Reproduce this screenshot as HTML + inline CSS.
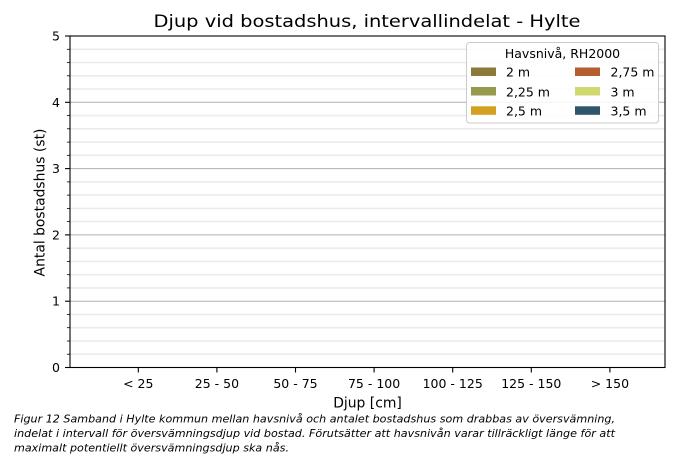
<!DOCTYPE html>
<html><head><meta charset="utf-8"><style>
html,body{margin:0;padding:0;background:#fff;}
svg{display:block;}
text{font-family:"DejaVu Sans","Liberation Sans",sans-serif;fill:#000;}
</style></head><body>
<svg width="700" height="459" viewBox="0 0 700 459" xmlns="http://www.w3.org/2000/svg">
<rect width="700" height="459" fill="#fff"/>
<!-- minor grid -->
<g stroke="#ebebeb" stroke-width="1.6">
<line x1="70" x2="665" y1="49.3" y2="49.3"/><line x1="70" x2="665" y1="62.5" y2="62.5"/><line x1="70" x2="665" y1="75.8" y2="75.8"/><line x1="70" x2="665" y1="89.0" y2="89.0"/>
<line x1="70" x2="665" y1="115.6" y2="115.6"/><line x1="70" x2="665" y1="128.8" y2="128.8"/><line x1="70" x2="665" y1="142.1" y2="142.1"/><line x1="70" x2="665" y1="155.3" y2="155.3"/>
<line x1="70" x2="665" y1="181.9" y2="181.9"/><line x1="70" x2="665" y1="195.1" y2="195.1"/><line x1="70" x2="665" y1="208.4" y2="208.4"/><line x1="70" x2="665" y1="221.6" y2="221.6"/>
<line x1="70" x2="665" y1="248.2" y2="248.2"/><line x1="70" x2="665" y1="261.4" y2="261.4"/><line x1="70" x2="665" y1="274.7" y2="274.7"/><line x1="70" x2="665" y1="287.9" y2="287.9"/>
<line x1="70" x2="665" y1="314.5" y2="314.5"/><line x1="70" x2="665" y1="327.7" y2="327.7"/><line x1="70" x2="665" y1="341.0" y2="341.0"/><line x1="70" x2="665" y1="354.2" y2="354.2"/>
</g>
<!-- major grid -->
<g stroke="#b0b0b0" stroke-width="1">
<line x1="70" x2="665" y1="102.3" y2="102.3"/><line x1="70" x2="665" y1="168.6" y2="168.6"/><line x1="70" x2="665" y1="234.9" y2="234.9"/><line x1="70" x2="665" y1="301.2" y2="301.2"/>
</g>
<!-- spines -->
<rect x="70" y="36" width="595" height="331.5" fill="none" stroke="#000" stroke-width="1.1"/>
<!-- y ticks -->
<g stroke="#000" stroke-width="1.1">
<line x1="65" x2="70" y1="367.5" y2="367.5"/><line x1="65" x2="70" y1="301.2" y2="301.2"/><line x1="65" x2="70" y1="234.9" y2="234.9"/><line x1="65" x2="70" y1="168.6" y2="168.6"/><line x1="65" x2="70" y1="102.3" y2="102.3"/><line x1="65" x2="70" y1="36" y2="36"/>
</g>
<g stroke="#000" stroke-width="0.8">
<line x1="67" x2="70" y1="49.3" y2="49.3"/><line x1="67" x2="70" y1="62.5" y2="62.5"/><line x1="67" x2="70" y1="75.8" y2="75.8"/><line x1="67" x2="70" y1="89.0" y2="89.0"/>
<line x1="67" x2="70" y1="115.6" y2="115.6"/><line x1="67" x2="70" y1="128.8" y2="128.8"/><line x1="67" x2="70" y1="142.1" y2="142.1"/><line x1="67" x2="70" y1="155.3" y2="155.3"/>
<line x1="67" x2="70" y1="181.9" y2="181.9"/><line x1="67" x2="70" y1="195.1" y2="195.1"/><line x1="67" x2="70" y1="208.4" y2="208.4"/><line x1="67" x2="70" y1="221.6" y2="221.6"/>
<line x1="67" x2="70" y1="248.2" y2="248.2"/><line x1="67" x2="70" y1="261.4" y2="261.4"/><line x1="67" x2="70" y1="274.7" y2="274.7"/><line x1="67" x2="70" y1="287.9" y2="287.9"/>
<line x1="67" x2="70" y1="314.5" y2="314.5"/><line x1="67" x2="70" y1="327.7" y2="327.7"/><line x1="67" x2="70" y1="341.0" y2="341.0"/><line x1="67" x2="70" y1="354.2" y2="354.2"/>
</g>
<g font-size="12.5" text-anchor="end">
<text x="60" y="372">0</text><text x="60" y="305.7">1</text><text x="60" y="239.4">2</text><text x="60" y="173.1">3</text><text x="60" y="106.8">4</text><text x="60" y="40.5">5</text>
</g>
<!-- x ticks -->
<g stroke="#000" stroke-width="1.1">
<line x1="138.3" x2="138.3" y1="367.5" y2="372.5"/><line x1="216.9" x2="216.9" y1="367.5" y2="372.5"/><line x1="295.5" x2="295.5" y1="367.5" y2="372.5"/><line x1="374.1" x2="374.1" y1="367.5" y2="372.5"/><line x1="452.7" x2="452.7" y1="367.5" y2="372.5"/><line x1="531.3" x2="531.3" y1="367.5" y2="372.5"/><line x1="609.9" x2="609.9" y1="367.5" y2="372.5"/>
</g>
<g font-size="12.5" text-anchor="middle">
<text x="138.3" y="388">&lt; 25</text><text x="216.9" y="388">25 - 50</text><text x="295.5" y="388">50 - 75</text><text x="374.1" y="388">75 - 100</text><text x="452.7" y="388">100 - 125</text><text x="531.3" y="388">125 - 150</text><text x="609.9" y="388">&gt; 150</text>
</g>
<text x="367.5" y="407.5" font-size="13.9" text-anchor="middle">Djup [cm]</text>
<text transform="translate(44.5,202.5) rotate(-90)" font-size="13.9" text-anchor="middle">Antal bostadshus (st)</text>
<text x="367" y="27" font-size="16.7" text-anchor="middle" textLength="427" lengthAdjust="spacingAndGlyphs">Djup vid bostadshus, intervallindelat - Hylte</text>
<!-- legend -->
<rect x="466.5" y="42.5" width="192" height="80.5" rx="3" ry="3" fill="#fff" fill-opacity="0.85" stroke="#cccccc" stroke-width="1"/>
<text x="562.5" y="58" font-size="12.5" text-anchor="middle">Havsnivå, RH2000</text>
<rect x="471" y="67.5" width="25" height="8.5" fill="#8b7a3a"/>
<rect x="471" y="87" width="25" height="8.5" fill="#979a4d"/>
<rect x="471" y="106.3" width="25" height="8.5" fill="#d4a020"/>
<rect x="575" y="67.5" width="25" height="8.5" fill="#b55e30"/>
<rect x="575" y="87" width="25" height="8.5" fill="#cfd970"/>
<rect x="575" y="106.3" width="25" height="8.5" fill="#2e556b"/>
<g font-size="12.5">
<text x="506" y="76.7">2 m</text><text x="506" y="96.3">2,25 m</text><text x="506" y="115.6">2,5 m</text>
<text x="610.5" y="76.7">2,75 m</text><text x="610.5" y="96.3">3 m</text><text x="610.5" y="115.6">3,5 m</text>
</g>
<!-- caption -->
<g font-size="10.5" font-style="italic">
<text x="14" y="422.5" textLength="601" lengthAdjust="spacingAndGlyphs">Figur 12 Samband i Hylte kommun mellan havsnivå och antalet bostadshus som drabbas av översvämning,</text>
<text x="14" y="437" textLength="601" lengthAdjust="spacingAndGlyphs">indelat i intervall för översvämningsdjup vid bostad. Förutsätter att havsnivån varar tillräckligt länge för att</text>
<text x="14" y="451.3" textLength="275" lengthAdjust="spacingAndGlyphs">maximalt potentiellt översvämningsdjup ska nås.</text>
</g>
</svg>
</body></html>
